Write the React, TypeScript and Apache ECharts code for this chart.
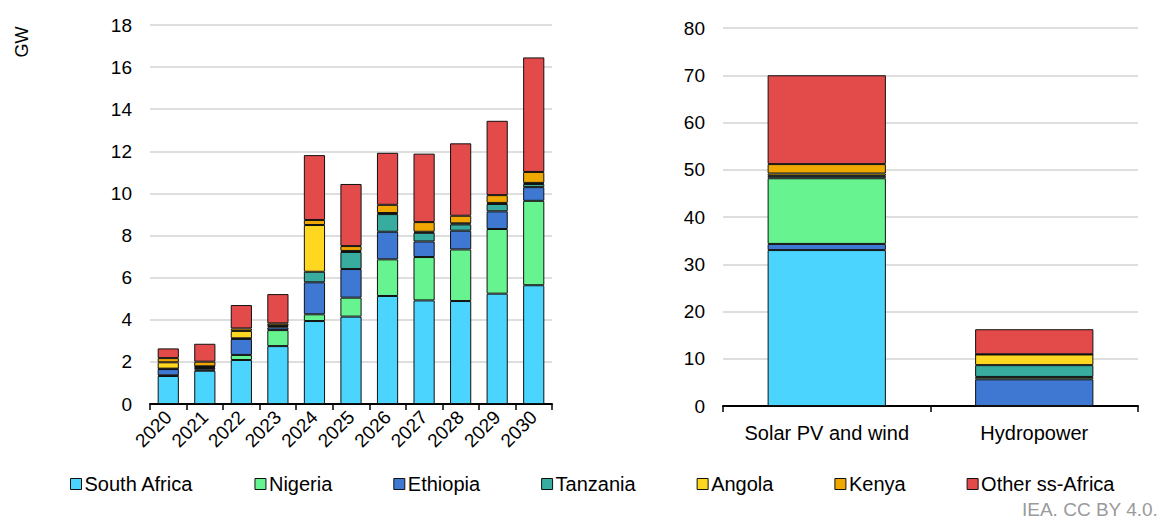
import React, { useEffect, useRef } from "react";
import * as echarts from "echarts";

const years = ["2020", "2021", "2022", "2023", "2024", "2025", "2026", "2027", "2028", "2029", "2030"];
const southAfrica = [1.33, 1.58, 2.09, 2.75, 3.94, 4.15, 5.13, 4.92, 4.89, 5.24, 5.64];
const nigeria = [0.03, 0.05, 0.24, 0.76, 0.32, 0.9, 1.74, 2.06, 2.45, 3.07, 4.01];
const ethiopia = [0.3, 0.08, 0.76, 0.13, 1.52, 1.36, 1.31, 0.74, 0.89, 0.84, 0.65];
const tanzania = [0.02, 0.05, 0.03, 0.06, 0.5, 0.81, 0.84, 0.41, 0.3, 0.35, 0.15];
const angola = [0.3, 0.03, 0.35, 0.03, 2.22, 0.05, 0.05, 0.05, 0.05, 0.05, 0.05];
const kenya = [0.2, 0.22, 0.12, 0.1, 0.24, 0.23, 0.39, 0.46, 0.36, 0.37, 0.52];
const otherAfrica = [0.46, 0.85, 1.11, 1.39, 3.08, 2.95, 2.47, 3.25, 3.44, 3.53, 5.44];

const techs = ["Solar PV and wind", "Hydropower"];
const techSouthAfrica = [33.0, 0];
const techEthiopia = [1.3, 5.65];
const techNigeria = [13.9, 0.5];
const techTanzania = [0.5, 2.5];
const techAngola = [0.5, 2.25];
const techKenya = [2.0, 0.05];
const techOther = [18.8, 5.3];

const leftTicks = [0, 2, 4, 6, 8, 10, 12, 14, 16, 18];
const rightTicks = [0, 10, 20, 30, 40, 50, 60, 70, 80];

const names = ["South Africa", "Nigeria", "Ethiopia", "Tanzania", "Angola", "Kenya", "Other ss-Africa"];
const colors: Record<string, string> = {
  "South Africa": "#4AD4FE",
  Nigeria: "#68F391",
  Ethiopia: "#3E78D2",
  Tanzania: "#37AC9F",
  Angola: "#FFD620",
  Kenya: "#F0A800",
  "Other ss-Africa": "#E34A4A",
};

const FONT = "'Liberation Sans', Arial, sans-serif";

export default function App() {
  const ref = useRef<HTMLDivElement>(null);
  useEffect(() => {
    document.body.style.margin = "0";
    const chart = echarts.init(ref.current!, null, { renderer: "svg" });

    const leftData: Record<string, number[]> = {
      "South Africa": southAfrica,
      Nigeria: nigeria,
      Ethiopia: ethiopia,
      Tanzania: tanzania,
      Angola: angola,
      Kenya: kenya,
      "Other ss-Africa": otherAfrica,
    };
    const rightOrder: [string, number[]][] = [
      ["South Africa", techSouthAfrica],
      ["Ethiopia", techEthiopia],
      ["Nigeria", techNigeria],
      ["Tanzania", techTanzania],
      ["Angola", techAngola],
      ["Kenya", techKenya],
      ["Other ss-Africa", techOther],
    ];

    const barStyle = (n: string) => ({
      color: colors[n],
      borderColor: "#111",
      borderWidth: 1,
    });

    const series: any[] = [];
    names.forEach((n) => {
      series.push({
        name: n,
        type: "bar",
        stack: "left",
        xAxisIndex: 0,
        yAxisIndex: 0,
        barWidth: "58%",
        data: leftData[n],
        itemStyle: barStyle(n),
      });
    });
    rightOrder.forEach(([n, d]) => {
      series.push({
        name: n,
        type: "bar",
        stack: "right",
        xAxisIndex: 1,
        yAxisIndex: 1,
        barWidth: "57%",
        data: d,
        itemStyle: barStyle(n),
      });
    });

    const axisLabel = { color: "#000", fontSize: 19, fontFamily: FONT };
    const splitLine = { show: true, lineStyle: { color: "#dedede", width: 2 } };
    const xLine = { show: true, lineStyle: { color: "#000", width: 2 } };
    const xTick = { show: true, length: 6, lineStyle: { color: "#000", width: 1.5 } };

    chart.setOption({
      animation: false,
      grid: [
        { left: 150, width: 402, top: 25, height: 379 },
        { left: 723, width: 415, top: 28, height: 378 },
      ],
      legend: {
        data: names,
        left: 65,
        top: 469,
        icon: "rect",
        itemWidth: 11,
        itemHeight: 11,
        itemGap: 61,
        textStyle: { color: "#000", fontSize: 20, fontFamily: FONT, padding: [0, 0, 0, -2] },
        itemStyle: { borderColor: "#111", borderWidth: 1 },
      },
      xAxis: [
        {
          type: "category",
          gridIndex: 0,
          data: years,
          axisLine: xLine,
          axisTick: xTick,
          axisLabel: { ...axisLabel, fontSize: 19, rotate: 45, margin: 10, interval: 0 },
        },
        {
          type: "category",
          gridIndex: 1,
          data: techs,
          axisLine: xLine,
          axisTick: xTick,
          axisLabel: { ...axisLabel, fontSize: 20, margin: 17, interval: 0 },
        },
      ],
      yAxis: [
        {
          type: "value",
          gridIndex: 0,
          min: leftTicks[0],
          max: leftTicks[leftTicks.length - 1],
          interval: leftTicks[1] - leftTicks[0],
          axisLine: { show: false },
          axisTick: { show: false },
          axisLabel: { ...axisLabel, margin: 18 },
          splitLine,
        },
        {
          type: "value",
          gridIndex: 1,
          min: rightTicks[0],
          max: rightTicks[rightTicks.length - 1],
          interval: rightTicks[1] - rightTicks[0],
          axisLine: { show: false },
          axisTick: { show: false },
          axisLabel: { ...axisLabel, margin: 18 },
          splitLine,
        },
      ],
      graphic: [
        {
          type: "text",
          x: 22,
          y: 42,
          rotation: Math.PI / 2,
          style: {
            text: "GW",
            fill: "#000",
            fontSize: 18,
            fontFamily: FONT,
            textAlign: "center",
            textVerticalAlign: "middle",
          },
        },
        {
          type: "text",
          x: 1022,
          y: 509,
          style: {
            text: "IEA. CC BY 4.0.",
            fill: "#9a9a9a",
            fontSize: 19,
            fontFamily: FONT,
            textAlign: "left",
            textVerticalAlign: "middle",
          },
        },
      ],
      series,
    });
    return () => chart.dispose();
  }, []);
  return <div ref={ref} style={{ width: 1171, height: 520 }} />;
}
